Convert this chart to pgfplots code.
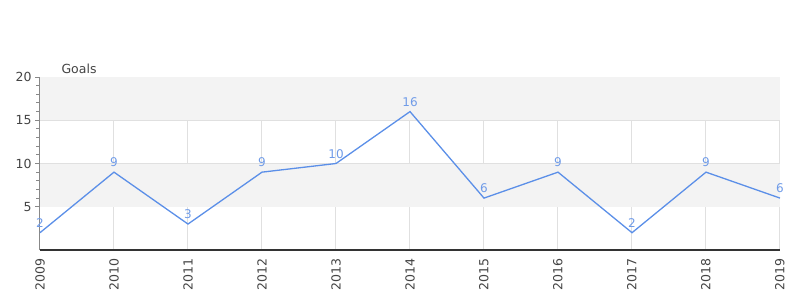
\documentclass[border=0pt]{standalone}
\usepackage{pgfplots}
\pgfplotsset{compat=1.18}
\usepackage{fontspec}
\setmainfont{DejaVu Sans}
\definecolor{lineblue}{HTML}{5B8FE8}
\definecolor{lblblue}{HTML}{6F9BE8}
\definecolor{band}{HTML}{F3F3F3}
\definecolor{gridc}{HTML}{E0E0E0}
\definecolor{txt}{HTML}{444444}
\definecolor{axc}{HTML}{888888}
\begin{document}
\begin{tikzpicture}
\useasboundingbox (0,0) rectangle (800pt,300pt);
\begin{axis}[
  at={(40pt,50pt)}, anchor=south west,
  scale only axis, width=740pt, height=173pt,
  xmin=2009, xmax=2019, ymin=0, ymax=20,
  xtick={2009,...,2019},
  xticklabel style={rotate=90, anchor=east, font=\fontsize{12.5}{14}\selectfont, text=txt},
  x tick label style={/pgf/number format/1000 sep={}},
  ytick={5,10,15,20},
  minor y tick num=4,
  yticklabel style={font=\fontsize{12.5}{14}\selectfont, text=txt},
  /pgf/number format/assume math mode=true,
  axis x line*=bottom, axis y line*=left,
  axis line style={axc, line width=1pt},
  x axis line style={draw=black!80, line width=1.6pt, -},
  y axis line style={-},
  tick align=outside,
  xtick style={draw=none},
  ytick style={axc, line width=1pt},
  major tick length=5pt, minor tick length=4pt,
  xmajorgrids, ymajorgrids,
  grid style={gridc, line width=1pt},
  clip=false,
  nodes near coords,
  every node near coord/.style={font=\fontsize{12}{14}\selectfont, text=lblblue, yshift=1pt},
]
\fill[band] (axis cs:2009,5) rectangle (axis cs:2019,10);
\fill[band] (axis cs:2009,15) rectangle (axis cs:2019,20);
\addplot[lineblue, line width=1.3pt, mark=none] coordinates {
(2009,2) (2010,9) (2011,3) (2012,9) (2013,10) (2014,16) (2015,6) (2016,9) (2017,2) (2018,9) (2019,6)
};
\node[anchor=south west, font=\fontsize{12.5}{14}\selectfont, text=txt] at (rel axis cs:0,1) [xshift=18pt, yshift=0pt] {Goals};
\end{axis}
\end{tikzpicture}
\end{document}
